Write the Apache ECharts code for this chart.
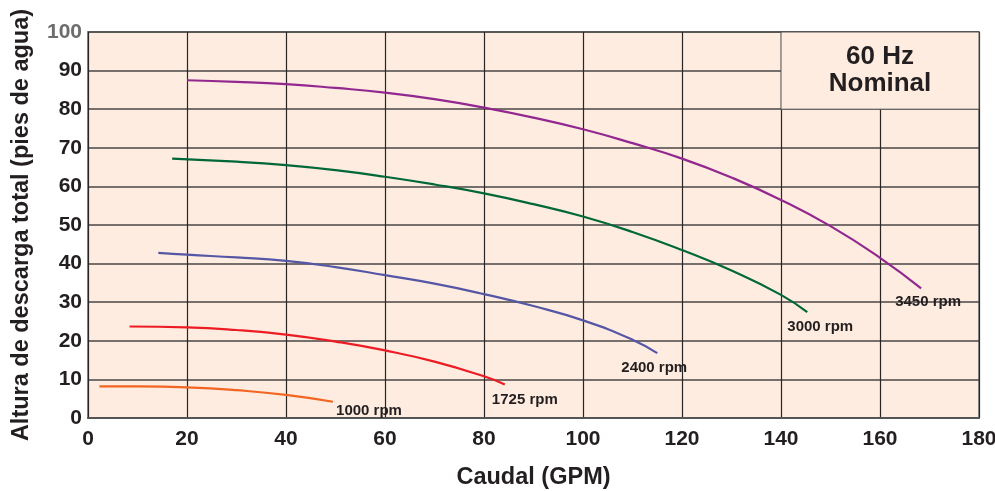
<!DOCTYPE html>
<html>
<head>
<meta charset="utf-8">
<title>Curvas de bomba 60 Hz</title>
<script src="https://cdn.jsdelivr.net/npm/echarts@6/dist/echarts.min.js"></script>
<style>
  html, body { margin: 0; padding: 0; background: #fff; }
  #chart { width: 995px; height: 491px; }
</style>
</head>
<body>
<div id="chart"></div>
<script>
// curve data: [caudal GPM, altura pies]
const rpm3450 = [[20, 87.5], [30, 87.1], [40, 86.5], [50, 85.5], [60, 84.3], [70, 82.6], [80, 80.4], [90, 77.8],
  [100, 74.8], [110, 71.2], [120, 67.2], [130, 62.3], [140, 56.5], [150, 49.7], [160, 41.5], [168.3, 33.6]];
const rpm3000 = [[17, 67.2], [30, 66.4], [40, 65.5], [50, 64.2], [60, 62.5], [70, 60.5], [80, 58.2], [90, 55.4],
  [100, 52.2], [110, 48.2], [120, 43.5], [130, 38.2], [140, 31.9], [145.3, 27.4]];
const rpm2400 = [[14.2, 42.8], [20, 42.3], [30, 41.6], [40, 40.7], [50, 39.1], [60, 37.0], [70, 34.8], [80, 32.1],
  [90, 29.0], [100, 25.3], [110, 20.3], [115, 16.8]];
const rpm1725 = [[8.4, 23.7], [20, 23.5], [30, 22.8], [40, 21.6], [50, 19.8], [60, 17.5], [70, 14.6], [80, 10.8], [84.2, 8.7]];
const rpm1000 = [[2.3, 8.2], [10, 8.2], [20, 7.95], [30, 7.2], [40, 6.0], [49.5, 4.2]];

const curveNames = ['3450 rpm', '3000 rpm', '2400 rpm', '1725 rpm', '1000 rpm'];
const curveColors = ['#92278f', '#006838', '#5656a6', '#ed1c24', '#f26522'];
// label offsets from the end of each curve (px)
const labelOffsets = [[7, 14], [13, 15], [-3, 15], [20, 15], [36, 9]];
const curves = [rpm3450, rpm3000, rpm2400, rpm1725, rpm1000];

const nominalBox = [[140, 100], [180, 80]];
const FONT = '"Liberation Sans", Arial, sans-serif';

const series = curves.map((data, i) => ({
  name: curveNames[i],
  type: 'line',
  data: data,
  smooth: true,
  showSymbol: false,
  lineStyle: { color: curveColors[i], width: 2.2 },
  endLabel: {
    show: true,
    formatter: curveNames[i],
    distance: 0,
    align: 'center',
    verticalAlign: 'middle',
    offset: labelOffsets[i],
    fontFamily: FONT,
    fontWeight: 'bold',
    fontSize: 15,
    color: '#231f20'
  },
  z: 3
}));

// "60 Hz Nominal" box in top right corner
series[0].markArea = {
  silent: true,
  itemStyle: { color: '#fdecdf', borderColor: '#555', borderWidth: 1 },
  label: {
    show: true,
    position: 'inside',
    formatter: '60 Hz\nNominal',
    fontFamily: FONT,
    fontWeight: 'bold',
    fontSize: 26,
    lineHeight: 27,
    color: '#231f20'
  },
  data: [[{ coord: nominalBox[0] }, { coord: nominalBox[1] }]]
};

const chart = echarts.init(document.getElementById('chart'));
chart.setOption({
  animation: false,
  backgroundColor: '#fff',
  grid: {
    left: 88, right: 16, top: 32, bottom: 73,
    outerBoundsMode: 'none',
    containLabel: false,
    show: true,
    backgroundColor: '#fdecdf',
    borderColor: '#8a8a8a',
    borderWidth: 2
  },
  xAxis: {
    type: 'value',
    min: 0, max: 180, interval: 20,
    name: 'Caudal (GPM)',
    nameLocation: 'middle',
    nameGap: 48,
    nameTextStyle: { fontFamily: FONT, fontWeight: 'bold', fontSize: 23.5, color: '#231f20' },
    axisLine: { show: true, lineStyle: { color: '#555', width: 2 } },
    axisTick: { show: false },
    axisLabel: { margin: 11, fontFamily: FONT, fontWeight: 'bold', fontSize: 21, color: '#231f20' },
    splitLine: { show: true, lineStyle: { color: '#2a2626', width: 1.2 } }
  },
  yAxis: {
    type: 'value',
    min: 0, max: 100, interval: 10,
    name: 'Altura de descarga total (pies de agua)',
    nameLocation: 'middle',
    nameGap: 54,
    nameTextStyle: { fontFamily: FONT, fontWeight: 'bold', fontSize: 23.5, color: '#231f20' },
    axisLine: { show: false },
    axisTick: { show: false },
    axisLabel: {
      margin: 6,
      fontFamily: FONT, fontWeight: 'bold', fontSize: 21, color: '#231f20',
      formatter: v => v === 100 ? '{g|100}' : String(v),
      rich: { g: { fontFamily: FONT, fontWeight: 'bold', fontSize: 21, color: '#6d6d6d' } }
    },
    splitLine: { show: true, lineStyle: { color: '#4a4646', width: 1.5 } }
  },
  series: series
});
</script>
</body>
</html>
